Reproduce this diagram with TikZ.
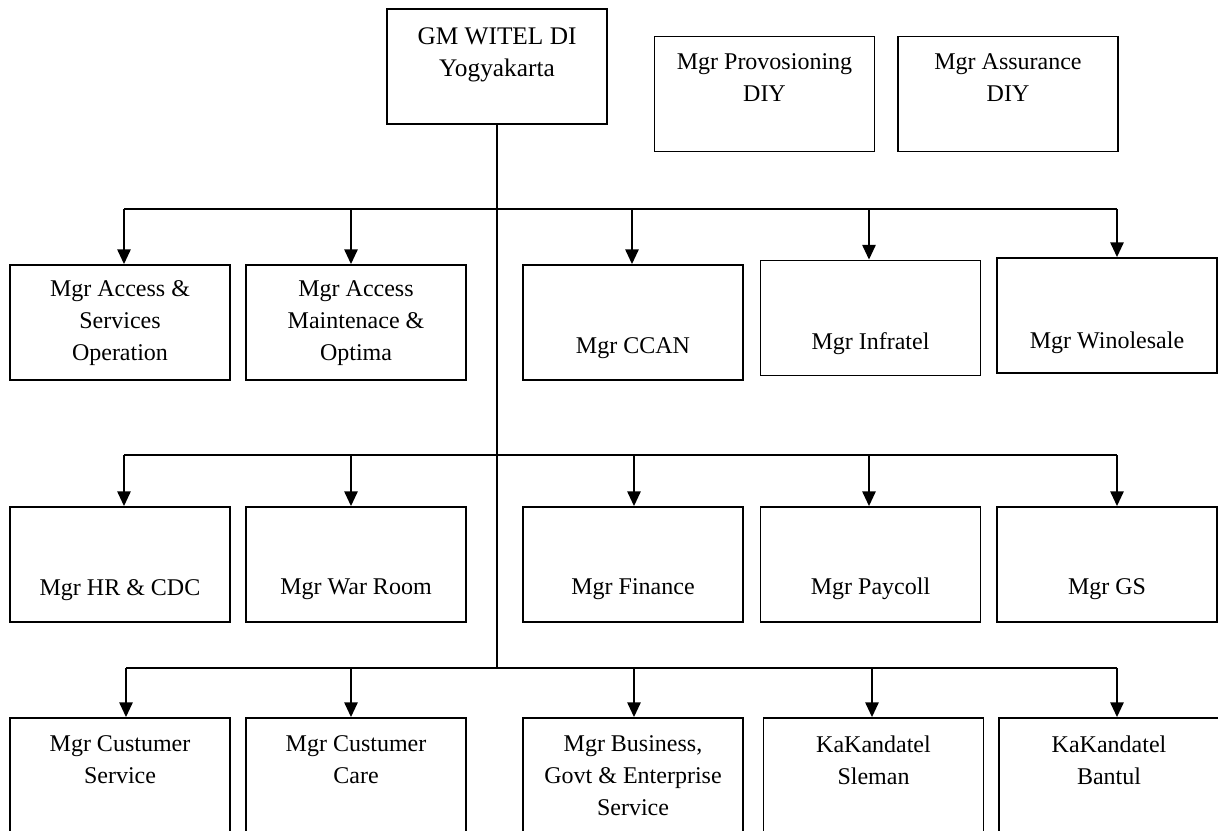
\documentclass[tikz,border=0pt]{standalone}
\usepackage{fontspec}
\setmainfont{Liberation Serif}
\usetikzlibrary{arrows.meta}
\begin{document}
\begin{tikzpicture}[x=0.75pt, y=-0.75pt,
  box/.style={draw, line width=1.4pt, minimum width=165pt, minimum height=86.25pt, inner sep=0pt},
  txt/.style={align=center, inner sep=0pt, font=\fontsize{18}{24}\selectfont},
  arr/.style={-{Triangle[length=11pt, width=10pt]}, line width=1.2pt},
  bus/.style={line width=1.2pt}]
  \useasboundingbox (0,0) rectangle (1218,831);
  % top
  \node[box] (gm) at (497,66.5) {};
  \node[txt, font=\fontsize{19}{24}\selectfont] (gm-t) at (497,55) {GM WITEL DI\\Yogyakarta};
  \node[box] (prov) at (764.5,94) {};
  \node[txt] (prov-t) at (764.5,77.5) {Mgr Provosioning\\DIY};
  \node[box] (assur) at (1008,94) {};
  \node[txt] (assur-t) at (1008,77.5) {Mgr Assurance\\DIY};
  % row 1
  \node[box] (acc) at (120,322.5) {};
  \node[txt] (acc-t) at (120,323.5) {Mgr Access \&\\Services\\Operation};
  \node[box] (maint) at (356,322.5) {};
  \node[txt] (maint-t) at (356,323.5) {Mgr Access\\Maintenace \&\\Optima};
  \node[box] (ccan) at (633,322.5) {};
  \node[txt] (ccan-t) at (633,348.5) {Mgr CCAN};
  \node[box] (infra) at (870.5,318) {};
  \node[txt] (infra-t) at (870.5,343.5) {Mgr Infratel};
  \node[box] (whole) at (1107,315.5) {};
  \node[txt] (whole-t) at (1107,342.5) {Mgr Winolesale};
  % row 2
  \node[box] (hr) at (120,564.5) {};
  \node[txt] (hr-t) at (120,590) {Mgr HR \& CDC};
  \node[box] (war) at (356,564.5) {};
  \node[txt] (war-t) at (356,589) {Mgr War Room};
  \node[box] (fin) at (633,564.5) {};
  \node[txt] (fin-t) at (633,589) {Mgr Finance};
  \node[box] (pay) at (870.5,564.5) {};
  \node[txt] (pay-t) at (870.5,589) {Mgr Paycoll};
  \node[box] (gs) at (1107,564.5) {};
  \node[txt] (gs-t) at (1107,589) {Mgr GS};
  % row 3
  \node[box] (cs) at (120,775.5) {};
  \node[txt] (cs-t) at (120,760) {Mgr Custumer\\Service};
  \node[box] (cc) at (356,775.5) {};
  \node[txt] (cc-t) at (356,760) {Mgr Custumer\\Care};
  \node[box] (bge) at (633,775.5) {};
  \node[txt] (bge-t) at (633,776) {Mgr Business,\\Govt \& Enterprise\\Service};
  \node[box] (slm) at (873.5,775.5) {};
  \node[txt] (slm-t) at (873.5,760) {KaKandatel\\Sleman};
  \node[box] (btl) at (1109,775.5) {};
  \node[txt] (btl-t) at (1109,760) {KaKandatel\\Bantul};
  % bus points
  \coordinate (r1a) at (124,209);
  \coordinate (r1b) at (351,209);
  \coordinate (r1c) at (632,209);
  \coordinate (r1d) at (869,209);
  \coordinate (r1e) at (1117,209);
  \coordinate (r2a) at (124,455);
  \coordinate (r2b) at (351,455);
  \coordinate (r2c) at (634,455);
  \coordinate (r2d) at (869,455);
  \coordinate (r2e) at (1117,455);
  \coordinate (r3a) at (126,668);
  \coordinate (r3b) at (351,668);
  \coordinate (r3c) at (634,668);
  \coordinate (r3d) at (872,668);
  \coordinate (r3e) at (1117,668);
  % lines
  \draw[bus] (gm.south) -- (gm.south |- r3a);
  \draw[bus] (r1a) -- (r1e);
  \draw[bus] (r2a) -- (r2e);
  \draw[bus] (r3a) -- (r3e);
  \draw[arr] (r1a) -- (r1a |- acc.north);
  \draw[arr] (r1b) -- (r1b |- maint.north);
  \draw[arr] (r1c) -- (r1c |- ccan.north);
  \draw[arr] (r1d) -- (r1d |- infra.north);
  \draw[arr] (r1e) -- (r1e |- whole.north);
  \draw[arr] (r2a) -- (r2a |- hr.north);
  \draw[arr] (r2b) -- (r2b |- war.north);
  \draw[arr] (r2c) -- (r2c |- fin.north);
  \draw[arr] (r2d) -- (r2d |- pay.north);
  \draw[arr] (r2e) -- (r2e |- gs.north);
  \draw[arr] (r3a) -- (r3a |- cs.north);
  \draw[arr] (r3b) -- (r3b |- cc.north);
  \draw[arr] (r3c) -- (r3c |- bge.north);
  \draw[arr] (r3d) -- (r3d |- slm.north);
  \draw[arr] (r3e) -- (r3e |- btl.north);
\end{tikzpicture}
\end{document}
